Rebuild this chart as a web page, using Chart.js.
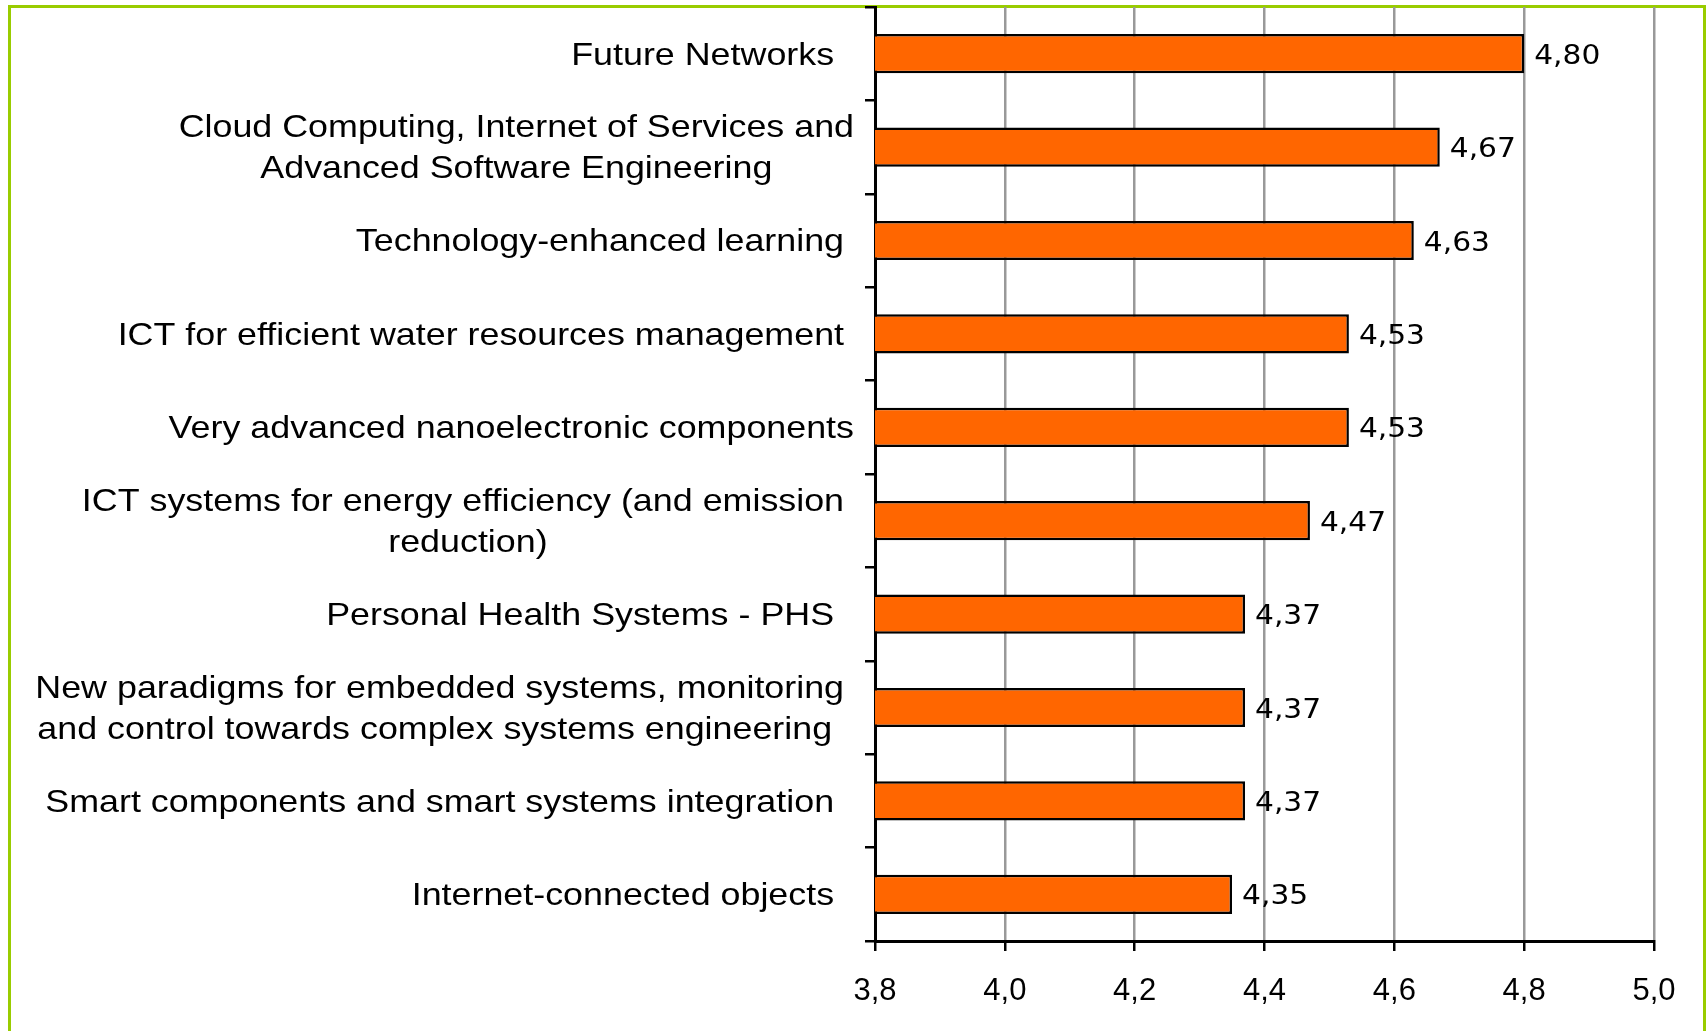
<!DOCTYPE html>
<html>
<head>
<meta charset="utf-8">
<script src="https://cdn.jsdelivr.net/npm/chart.js@4.4.1/dist/chart.umd.min.js"></script>
<style>
    body { margin: 0; background: #fff; }
    #wrap { position: relative; width: 1706px; height: 1031px; overflow: hidden; }
    #frame {
        position: absolute; left: 8px; top: 5px; width: 1698px; height: 1040px;
        box-sizing: border-box; border: 3px solid #99cc00; border-bottom: none;
    }
    #chart { position: absolute; left: 0; top: 0; }
</style>
</head>
<body>
<div id="wrap">
    <div id="frame"></div>
    <canvas id="chart" width="1706" height="1031"></canvas>
</div>
<script>
    // categories (multi-line ones as arrays), trailing spaces as in the source sheet
    var categories = [
        'Future Networks  ',
        ['Cloud Computing, Internet of Services and', 'Advanced Software Engineering'],
        'Technology-enhanced learning ',
        'ICT for efficient water resources management ',
        'Very advanced nanoelectronic components',
        ['ICT systems for energy efficiency (and emission ', 'reduction)'],
        'Personal Health Systems - PHS  ',
        ['New paradigms for embedded systems, monitoring ', 'and control towards complex systems engineering  '],
        'Smart components and smart systems integration  ',
        'Internet-connected objects  '
    ];
    var scores = [4.80, 4.67, 4.63, 4.53, 4.53, 4.47, 4.37, 4.37, 4.37, 4.35];
    var xTickLabels = ['3,8', '4,0', '4,2', '4,4', '4,6', '4,8', '5,0'];
    var xMin = 3.8, xMax = 5.0, xStep = 0.2;

    function stretchedText(ctx, text, x, y, align, sx) {
        ctx.save();
        ctx.translate(x, y);
        ctx.scale(sx, 1);
        ctx.textAlign = align;
        ctx.fillText(text, 0, 0);
        ctx.restore();
    }

    // category names drawn left of the y axis, lines centred inside each label block
    var categoryLabels = {
        id: 'categoryLabels',
        afterDraw: function (chart) {
            var ctx = chart.ctx, y = chart.scales.y;
            var sx = 1.12, lh = 41;
            var right = chart.chartArea.left - 21;
            ctx.save();
            ctx.font = '32px "Liberation Sans", Arial, sans-serif';
            ctx.fillStyle = '#000';
            ctx.textBaseline = 'middle';
            categories.forEach(function (c, i) {
                var lines = Array.isArray(c) ? c : [c];
                var w = 0;
                lines.forEach(function (l) { w = Math.max(w, ctx.measureText(l).width * sx); });
                var cx = right - w / 2;
                var yc = y.getPixelForTick(i) + 2;
                lines.forEach(function (l, k) {
                    stretchedText(ctx, l, cx, yc + (k - (lines.length - 1) / 2) * lh, 'center', sx);
                });
            });
            ctx.restore();
        }
    };

    // value labels at the end of each bar
    var valueLabels = {
        id: 'valueLabels',
        afterDatasetsDraw: function (chart) {
            var ctx = chart.ctx;
            var meta = chart.getDatasetMeta(0);
            ctx.save();
            ctx.font = '27px "DejaVu Sans", Verdana, sans-serif';
            ctx.fillStyle = '#000';
            ctx.textBaseline = 'middle';
            meta.data.forEach(function (bar, i) {
                stretchedText(ctx, scores[i].toFixed(2).replace('.', ','), bar.x + 10, bar.y + 3, 'left', 1.1);
            });
            ctx.restore();
        }
    };

    document.addEventListener('DOMContentLoaded', function () {
        var ctx = document.getElementById('chart').getContext('2d');
        new Chart(ctx, {
            type: 'bar',
            data: {
                labels: categories,
                datasets: [{
                    data: scores,
                    backgroundColor: '#ff6600',
                    borderColor: '#000',
                    borderWidth: 2.5,
                    borderSkipped: false,
                    barPercentage: 0.42,
                    categoryPercentage: 1
                }]
            },
            options: {
                indexAxis: 'y',
                responsive: false,
                animation: false,
                devicePixelRatio: 1,
                layout: { padding: { left: 0, right: 52, top: 7, bottom: 0 } },
                plugins: {
                    legend: { display: false },
                    tooltip: { enabled: false }
                },
                scales: {
                    x: {
                        min: xMin,
                        max: xMax,
                        afterBuildTicks: function (s) {
                            s.ticks = xTickLabels.map(function (t, i) { return { value: xMin + i * xStep }; });
                        },
                        afterFit: function (s) { s.height = 90; },
                        grid: { color: '#999', lineWidth: 2.5, tickColor: '#000', tickLength: 10 },
                        border: { color: '#000', width: 3 },
                        ticks: {
                            padding: 22,
                            color: '#000',
                            font: { family: '"Liberation Sans", Arial, sans-serif', size: 31 },
                            callback: function (v, i) { return xTickLabels[i]; }
                        }
                    },
                    y: {
                        afterFit: function (s) { s.width = 875; },
                        grid: { drawOnChartArea: false, color: '#000', lineWidth: 2.5, tickLength: 10, offset: true },
                        border: { color: '#000', width: 3 },
                        ticks: { display: false }
                    }
                }
            },
            plugins: [categoryLabels, valueLabels]
        });
    });
</script>
</body>
</html>
